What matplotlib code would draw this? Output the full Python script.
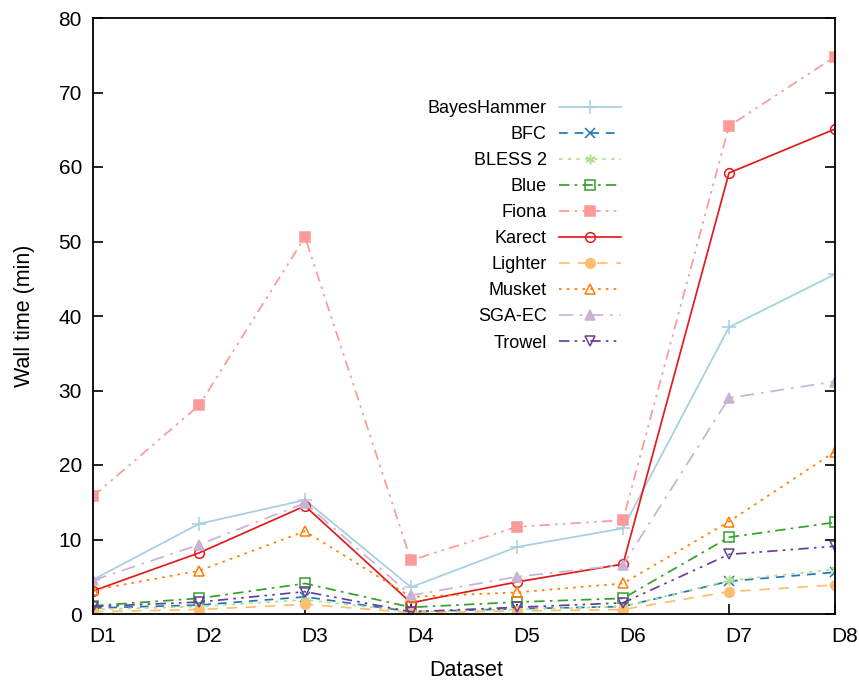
import numpy as np
import matplotlib
matplotlib.use('Agg')
import matplotlib.pyplot as plt
import matplotlib.transforms as mtransforms

plt.rcParams['font.family'] = ['Liberation Sans', 'DejaVu Sans']

datasets = ['D1', 'D2', 'D3', 'D4', 'D5', 'D6', 'D7', 'D8']

bayeshammer = [4.6, 12.1, 15.3, 3.6, 9.0, 11.5, 38.5, 45.6]
bfc = [0.8, 1.2, 2.3, 0.3, 0.7, 1.0, 4.4, 5.6]
bless2 = [0.6, 1.0, 1.9, 0.3, 0.6, 1.0, 4.5, 6.0]
blue = [1.1, 2.1, 4.1, 0.9, 1.6, 2.1, 10.3, 12.3]
fiona = [15.8, 28.0, 50.6, 7.2, 11.7, 12.6, 65.5, 74.8]
karect = [3.1, 8.2, 14.5, 1.5, 4.3, 6.7, 59.2, 65.1]
lighter = [0.3, 0.6, 1.3, 0.2, 0.4, 0.6, 3.0, 3.9]
musket = [3.2, 5.8, 11.1, 2.3, 2.9, 4.1, 12.4, 21.8]
sgaec = [4.5, 9.3, 14.9, 2.5, 5.0, 6.6, 29.0, 31.2]
trowel = [1.0, 1.6, 3.0, 0.3, 0.9, 1.5, 8.0, 9.1]

# name, values, colour, marker, filled, dashes
series = [
    ('BayesHammer', bayeshammer, '#a6cee3', '+', True, None),
    ('BFC', bfc, '#1f78b4', 'x', True, (5, 4)),
    ('BLESS 2', bless2, '#b2df8a', (6, 2, 0), True, (2, 3)),
    ('Blue', blue, '#33a02c', 's', False, (6, 3, 1.5, 3)),
    ('Fiona', fiona, '#fb9a99', 's', True, (6, 3, 1.5, 3, 1.5, 3)),
    ('Karect', karect, '#e31a1c', 'o', False, None),
    ('Lighter', lighter, '#fdbf6f', 'o', True, (6, 5)),
    ('Musket', musket, '#ff7f00', '^', False, (1.5, 3)),
    ('SGA-EC', sgaec, '#cab2d6', '^', True, (8, 4, 1.5, 4)),
    ('Trowel', trowel, '#6a3d9a', 'v', False, (6, 3, 1.5, 3, 1.5, 3)),
]

fig = plt.figure(figsize=(8.59, 6.82), dpi=100)
ax = fig.add_axes([93/859, 1 - 614/682, (835-93)/859, (614-18)/682])

x = np.arange(len(datasets))
for name, vals, col, mk, filled, dash in series:
    ms = 7
    if mk == '+':
        ms = 10
    line, = ax.plot(x, vals, color=col, lw=1.25, marker=mk, markersize=ms,
                    markerfacecolor=col if filled else 'none',
                    markeredgecolor=col, markeredgewidth=1.1, label=name)
    if dash is not None:
        line.set_dashes(dash)

ax.set_xlim(0, len(datasets) - 1)
ax.set_ylim(0, 80)
ax.set_xticks(x)
ax.set_xticklabels(datasets)
ax.set_yticks(np.arange(0, 81, 10))
ax.tick_params(direction='in', length=7, width=1.2, labelsize=15,
               right=True, top=False)
ax.tick_params(axis='x', pad=9)
ax.tick_params(axis='y', pad=8)
# x tick labels sit a little to the right of their ticks
shift = mtransforms.ScaledTranslation(10/100, 0, fig.dpi_scale_trans)
for lab in ax.get_xticklabels():
    lab.set_transform(lab.get_transform() + shift)
for s in ax.spines.values():
    s.set_linewidth(1.3)
ax.set_xlabel('Dataset', fontsize=15.5)
ax.set_ylabel('Wall time (min)', fontsize=15.5)
ax.xaxis.set_label_coords((466-93)/742, (614-660)/596)
ax.yaxis.set_label_coords((35-93)/742, 0.5)

ax.legend(loc='upper right', bbox_to_anchor=(637/859, 1 - 84/682),
          bbox_transform=fig.transFigure, frameon=False, markerfirst=False,
          fontsize=13, handlelength=3.4, labelspacing=0.5, handletextpad=0.7)

fig.savefig('out.png', dpi=100)
